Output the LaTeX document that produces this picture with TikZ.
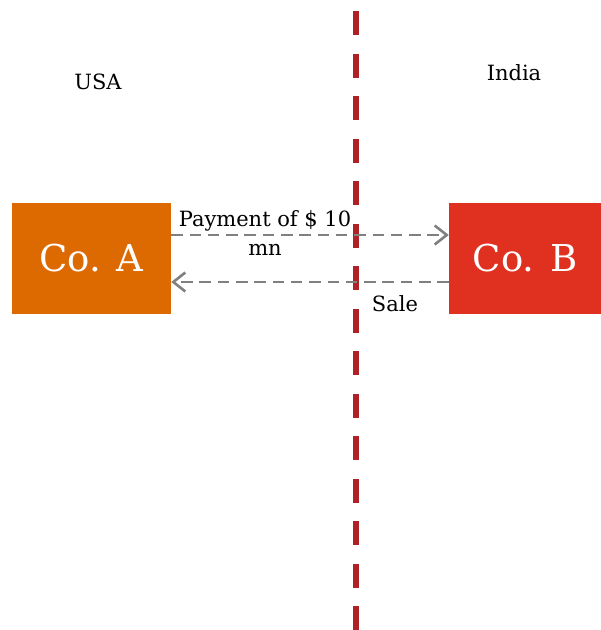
\documentclass[tikz,border=0pt]{standalone}
\usepackage{fontspec}
\setmainfont{DejaVu Serif}
\usetikzlibrary{arrows.meta}
\definecolor{coAcol}{HTML}{DD6A00}
\definecolor{coBcol}{HTML}{E03020}
\definecolor{bordercol}{HTML}{AE2227}
\definecolor{flowcol}{HTML}{808080}
\begin{document}
\begin{tikzpicture}[x=1pt,y=-1pt,
  company/.style={rectangle, minimum height=111pt, inner sep=0pt, text=white,
    font=\fontsize{37}{42}\selectfont},
  lbl/.style={font=\fontsize{21}{29}\selectfont, inner sep=0pt, align=center},
  flow/.style={draw=flowcol, line width=2.8pt, dash pattern=on 11.5pt off 6.8pt,
    -{Straight Barb[length=12pt,width=19pt,line width=2.6pt]}},
  border/.style={draw=bordercol, line width=6pt, dash pattern=on 24.3pt off 18.2pt}]
  \useasboundingbox (0,0) rectangle (601,630);
  % country border
  \coordinate (btop) at (356,11);
  \coordinate (bbot) at (356,630);
  \draw[border] (btop) -- (bbot);
  % companies
  \node[company, fill=coAcol, minimum width=159pt] (coA) at (91.5,258.5) {Co. A};
  \node[company, fill=coBcol, minimum width=152pt] (coB) at (525,258.5) {Co. B};
  % country labels
  \node[lbl] (usa) at (98,82) {USA};
  \node[lbl] (india) at (514,73) {India};
  % flows between the companies
  \draw[flow] ([yshift=23.5pt]coA.east) -- ([yshift=23.5pt]coB.west);
  \draw[flow] ([yshift=-23.5pt]coB.west) -- ([yshift=-23.5pt]coA.east);
  \node[lbl] (pay) at (265,233) {Payment of \$ 10\\mn};
  \node[lbl] (sale) at (395,304) {Sale};
\end{tikzpicture}
\end{document}
